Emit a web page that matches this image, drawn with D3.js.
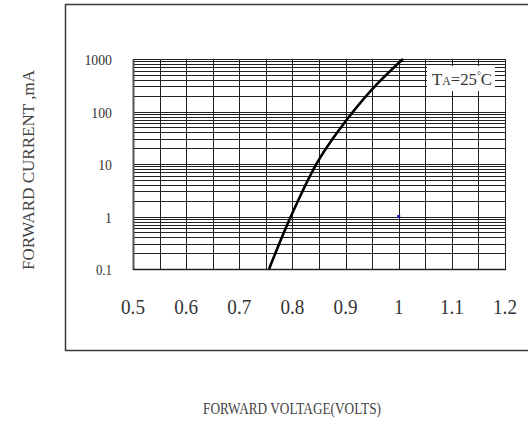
<!DOCTYPE html>
<html>
<head>
<meta charset="utf-8">
<script src="https://cdn.jsdelivr.net/npm/d3@7/dist/d3.min.js"></script>
<style>
  html, body { margin: 0; padding: 0; background: #fff; }
  svg { display: block; font-family: "Liberation Serif", "DejaVu Serif", serif; }
</style>
</head>
<body>
<svg id="chart" width="528" height="423"></svg>
<script>
// ---- data ----
const voltage = [0.756, 0.797, 0.846, 0.888, 0.949, 1.008];
const current = [0.1, 1, 10.4, 45, 259, 1000];
const xTickValues = [0.5, 0.6, 0.7, 0.8, 0.9, 1, 1.1, 1.2];
const xTickLabels = ["0.5", "0.6", "0.7", "0.8", "0.9", "1", "1.1", "1.2"];
const yTickValues = [1000, 100, 10, 1, 0.1];
const yTickLabels = ["1000", "100", "10", "1", "0.1"];
const xTitle = "FORWARD VOLTAGE(VOLTS)";
const yTitle = "FORWARD CURRENT ,mA";
const markerPoint = [1.0, 1]; // small blue dot in the original

const svg = d3.select("#chart");
const plot = { left: 133, right: 505, top: 59, bottom: 269 };

const x = d3.scaleLinear().domain([0.5, 1.2]).range([plot.left, plot.right]);
const y = d3.scaleLog().domain([0.1, 1000]).range([plot.bottom, plot.top]);

// condense text horizontally (reference font is narrow and tall)
function condense(sel, factor) {
  sel.each(function () {
    const w = this.getComputedTextLength();
    d3.select(this).attr("textLength", w * factor).attr("lengthAdjust", "spacingAndGlyphs");
  });
}

// outer frame
svg.append("rect")
  .attr("x", 65.5).attr("y", 4.5).attr("width", 470).attr("height", 346)
  .attr("fill", "none").attr("stroke", "#3a3a3a").attr("stroke-width", 1.5);

// horizontal grid (log minor lines)
const g = svg.append("g");
g.selectAll("line.h").data(y.ticks()).enter().append("line")
  .attr("class", "h")
  .attr("x1", plot.left).attr("x2", plot.right)
  .attr("y1", d => Math.round(y(d)) + 0.5).attr("y2", d => Math.round(y(d)) + 0.5)
  .attr("stroke", "#222").attr("stroke-width", 1);

// vertical grid
g.selectAll("line.v").data(d3.range(0, 15).map(i => 0.5 + i * 0.05)).enter().append("line")
  .attr("class", "v")
  .attr("x1", d => Math.round(x(d)) + 0.5).attr("x2", d => Math.round(x(d)) + 0.5)
  .attr("y1", plot.top).attr("y2", plot.bottom)
  .attr("stroke", "#222").attr("stroke-width", 1);

// plot border left/bottom slightly heavier
svg.append("line").attr("x1", plot.left + 0.5).attr("x2", plot.left + 0.5)
  .attr("y1", plot.top).attr("y2", plot.bottom + 1).attr("stroke", "#555").attr("stroke-width", 2);
svg.append("line").attr("x1", plot.left).attr("x2", plot.right + 1)
  .attr("y1", plot.bottom + 0.5).attr("y2", plot.bottom + 0.5).attr("stroke", "#222").attr("stroke-width", 1.5);

// y tick labels
svg.selectAll("text.yt").data(yTickValues).enter().append("text")
  .attr("class", "yt")
  .attr("x", 112)
  .attr("y", d => y(d) + 6)
  .attr("text-anchor", "end")
  .attr("font-size", (d, i) => yTickLabels[i] === "0.1" ? 14 : 15)
  .attr("fill", "#333")
  .text((d, i) => yTickLabels[i])
  .call(condense, 0.92);

// x tick labels
svg.selectAll("text.xt").data(xTickValues).enter().append("text")
  .attr("class", "xt")
  .attr("x", d => x(d))
  .attr("y", 314)
  .attr("text-anchor", "middle")
  .attr("font-size", 22)
  .attr("fill", "#333")
  .text((d, i) => xTickLabels[i])
  .call(condense, 0.87);

// legend box
const lg = svg.append("g");
lg.append("rect").attr("x", 427).attr("y", 66).attr("width", 68).attr("height", 25)
  .attr("fill", "#fff");
const lt = lg.append("text").attr("x", 462).attr("y", 85).attr("text-anchor", "middle")
  .attr("font-size", 17).attr("fill", "#333")
  .attr("textLength", 60).attr("lengthAdjust", "spacingAndGlyphs");
lt.append("tspan").text("T");
lt.append("tspan").attr("font-size", 12).text("A");
lt.append("tspan").text("=25");
lt.append("tspan").attr("font-size", 10).attr("dy", -6).text("°");
lt.append("tspan").attr("dy", 6).text("C");

// curve
const pts = voltage.map((v, i) => [v, current[i]]);
svg.append("path")
  .datum(pts)
  .attr("fill", "none")
  .attr("stroke", "#000")
  .attr("stroke-width", 2.6)
  .attr("d", d3.line().x(d => x(d[0])).y(d => y(d[1])).curve(d3.curveCatmullRom.alpha(0.5)));

// blue dot
svg.append("rect")
  .attr("x", x(markerPoint[0]) - 1.5).attr("y", y(markerPoint[1]) - 1.5)
  .attr("width", 3).attr("height", 3).attr("fill", "#1010a0");

// axis titles
svg.append("text").attr("x", 292).attr("y", 414).attr("text-anchor", "middle")
  .attr("font-size", 16).attr("fill", "#444")
  .attr("textLength", 178).attr("lengthAdjust", "spacingAndGlyphs")
  .text(xTitle);
svg.append("text")
  .attr("transform", "translate(34,170) rotate(-90)")
  .attr("text-anchor", "middle")
  .attr("font-size", 16).attr("fill", "#444")
  .attr("textLength", 200).attr("lengthAdjust", "spacingAndGlyphs")
  .text(yTitle);
</script>
</body>
</html>
